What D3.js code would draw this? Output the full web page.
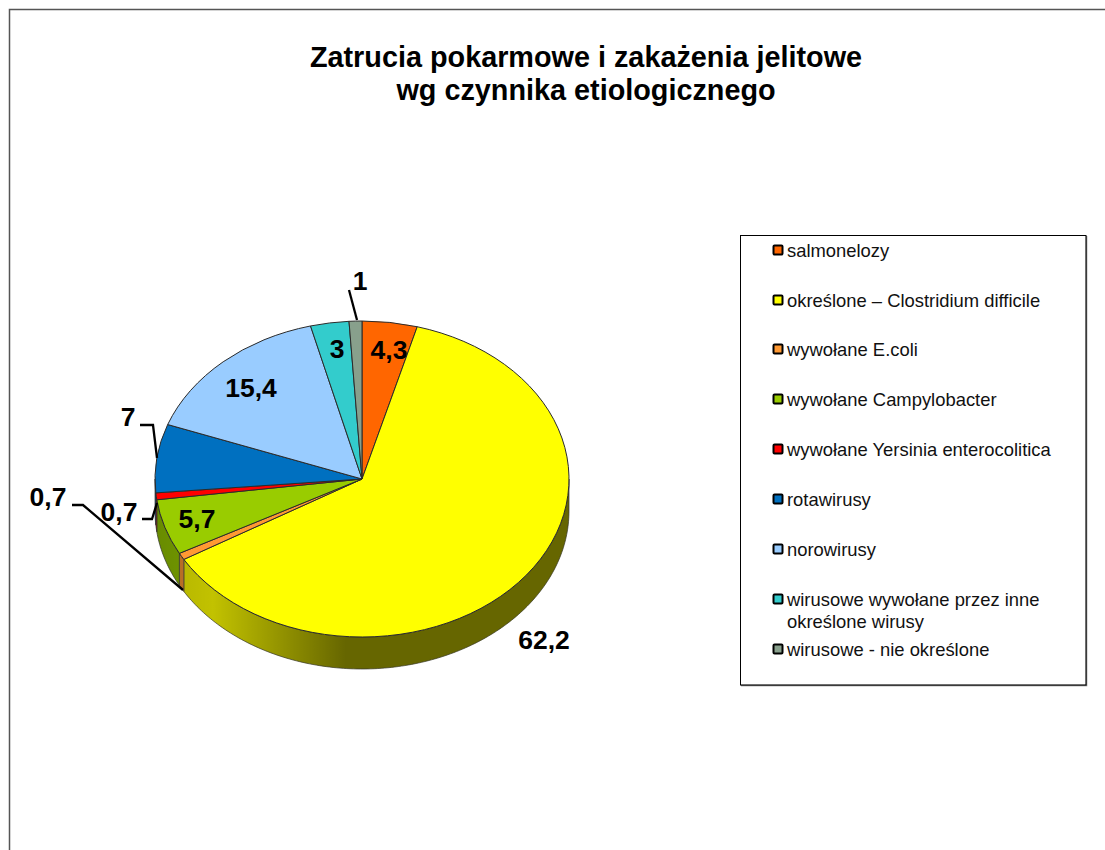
<!DOCTYPE html>
<html><head><meta charset="utf-8">
<script src="https://cdn.jsdelivr.net/npm/d3@7"></script>
<style>html,body{margin:0;padding:0;background:#fff;overflow:hidden}svg{display:block}text{font-family:"Liberation Sans",Arial,sans-serif}</style>
</head><body><script>
const categories = ["salmonelozy","określone – Clostridium difficile","wywołane E.coli","wywołane Campylobacter","wywołane Yersinia enterocolitica","rotawirusy","norowirusy","wirusowe wywołane przez inne określone wirusy","wirusowe - nie określone"];
const values = [4.3,62.2,0.7,5.7,0.7,7,15.4,3,1];
const valueLabels = ["4,3","62,2","0,7","5,7","0,7","7","15,4","3","1"];
const colors = ["#ff6600","#ffff00","#ff9933","#99cc00","#ff0000","#0070c0","#99ccff","#33cccc","#88a08c"];
const titleLines = ["Zatrucia pokarmowe i zakażenia jelitowe","wg czynnika etiologicznego"];

// layout
const W=1105,H=850,cx=362,cy=479,rx=207,ry=158,depth=32;
const labelPos=[[389,359],[544,649],[48,506],[197,528],[119,521],[128,426],[251,397],[337,358],[360,290]];
const leaders={2:[[72,505],[83,505]],4:[[142,519],[152,519]],5:[[140,425],[153,425]],8:[[349,290]]};
const leaderEnd={2:[183,590],4:[157,503],5:[157,458],8:[357,320]};
const legendRows=[250,300,349,399,449,499,549,599,649];

const svg=d3.select("body").append("svg").attr("width",W).attr("height",H);
const defs=svg.append("defs");
const shade=defs.append("linearGradient").attr("id","shade").attr("gradientUnits","userSpaceOnUse")
  .attr("x1",cx-rx).attr("x2",cx+rx).attr("y1",0).attr("y2",0);
[[0,.32],[.08,.27],[.14,.24],[.46,.6],[1,.6]].forEach(([o,a])=>shade.append("stop").attr("offset",o).attr("stop-color","#000").attr("stop-opacity",a));

svg.append("path").attr("d",`M${W} 9.5H9.5V${H}`).attr("fill","none").attr("stroke","#555").attr("stroke-width",1.5);

svg.append("g").selectAll("text").data(titleLines).join("text")
  .attr("x",586).attr("y",(d,i)=>67+i*33).attr("text-anchor","middle")
  .attr("font-size",28.8).attr("font-weight","bold").attr("fill","#000").text(d=>d);

const pieData=d3.pie().sort(null).value(d=>d)(values);
const pt=(a,dz=0)=>[cx+rx*Math.sin(a),cy-ry*Math.cos(a)+dz];

// rim
const line=d3.line();
const rim=svg.append("g");
pieData.forEach((s,i)=>{
  const a0=Math.max(s.startAngle,Math.PI/2),a1=Math.min(s.endAngle,Math.PI*1.5);
  if(a1<=a0) return;
  const n=Math.max(4,Math.ceil((a1-a0)*60));
  const as=d3.range(n+1).map(k=>a0+(a1-a0)*k/n);
  const poly=as.map(a=>pt(a)).concat(as.slice().reverse().map(a=>pt(a,depth)));
  const d=line(poly)+"Z";
  rim.append("path").attr("d",d).attr("fill",colors[i]);
  rim.append("path").attr("d",d).attr("fill","url(#shade)").attr("stroke","#333").attr("stroke-width",.7);
});

// top face
const arc=d3.arc().innerRadius(0).outerRadius(rx);
const face=svg.append("g").attr("transform",`translate(${cx},${cy}) scale(1,${ry/rx})`);
face.selectAll("path").data(pieData).join("path").attr("d",arc)
  .attr("fill",(d,i)=>colors[i]).attr("stroke","#2b2b2b").attr("stroke-width",1).attr("vector-effect","non-scaling-stroke");

// leaders
Object.keys(leaders).forEach(k=>{
  svg.append("path").attr("d",line(leaders[k].concat([leaderEnd[k]]))).attr("fill","none").attr("stroke","#000").attr("stroke-width",2.3);
});

// value labels
svg.append("g").selectAll("text").data(valueLabels).join("text")
  .attr("x",(d,i)=>labelPos[i][0]).attr("y",(d,i)=>labelPos[i][1]).attr("text-anchor","middle")
  .attr("font-size",26.5).attr("font-weight","bold").attr("fill","#000").text(d=>d);

// legend
svg.append("path").attr("d","M741 685.5H1086.5V236").attr("fill","none").attr("stroke","#777").attr("stroke-width",1.5);
svg.append("rect").attr("x",740.5).attr("y",235.5).attr("width",345.5).attr("height",449.5).attr("fill","none").attr("stroke","#000").attr("stroke-width",1);
const leg=svg.append("g");
categories.forEach((c,i)=>{
  const y=legendRows[i];
  leg.append("rect").attr("x",773.5).attr("y",y-4.5).attr("width",9).attr("height",9).attr("rx",1)
    .attr("fill",colors[i]).attr("stroke","#000").attr("stroke-width",2);
  const t=leg.append("text").attr("x",787).attr("y",y+7).attr("font-size",18.4).attr("fill","#111");
  if(i===7){
    t.append("tspan").text("wirusowe wywołane przez inne");
    t.append("tspan").attr("x",787).attr("dy",21.5).text("określone wirusy");
  } else t.text(c);
});
</script></body></html>
